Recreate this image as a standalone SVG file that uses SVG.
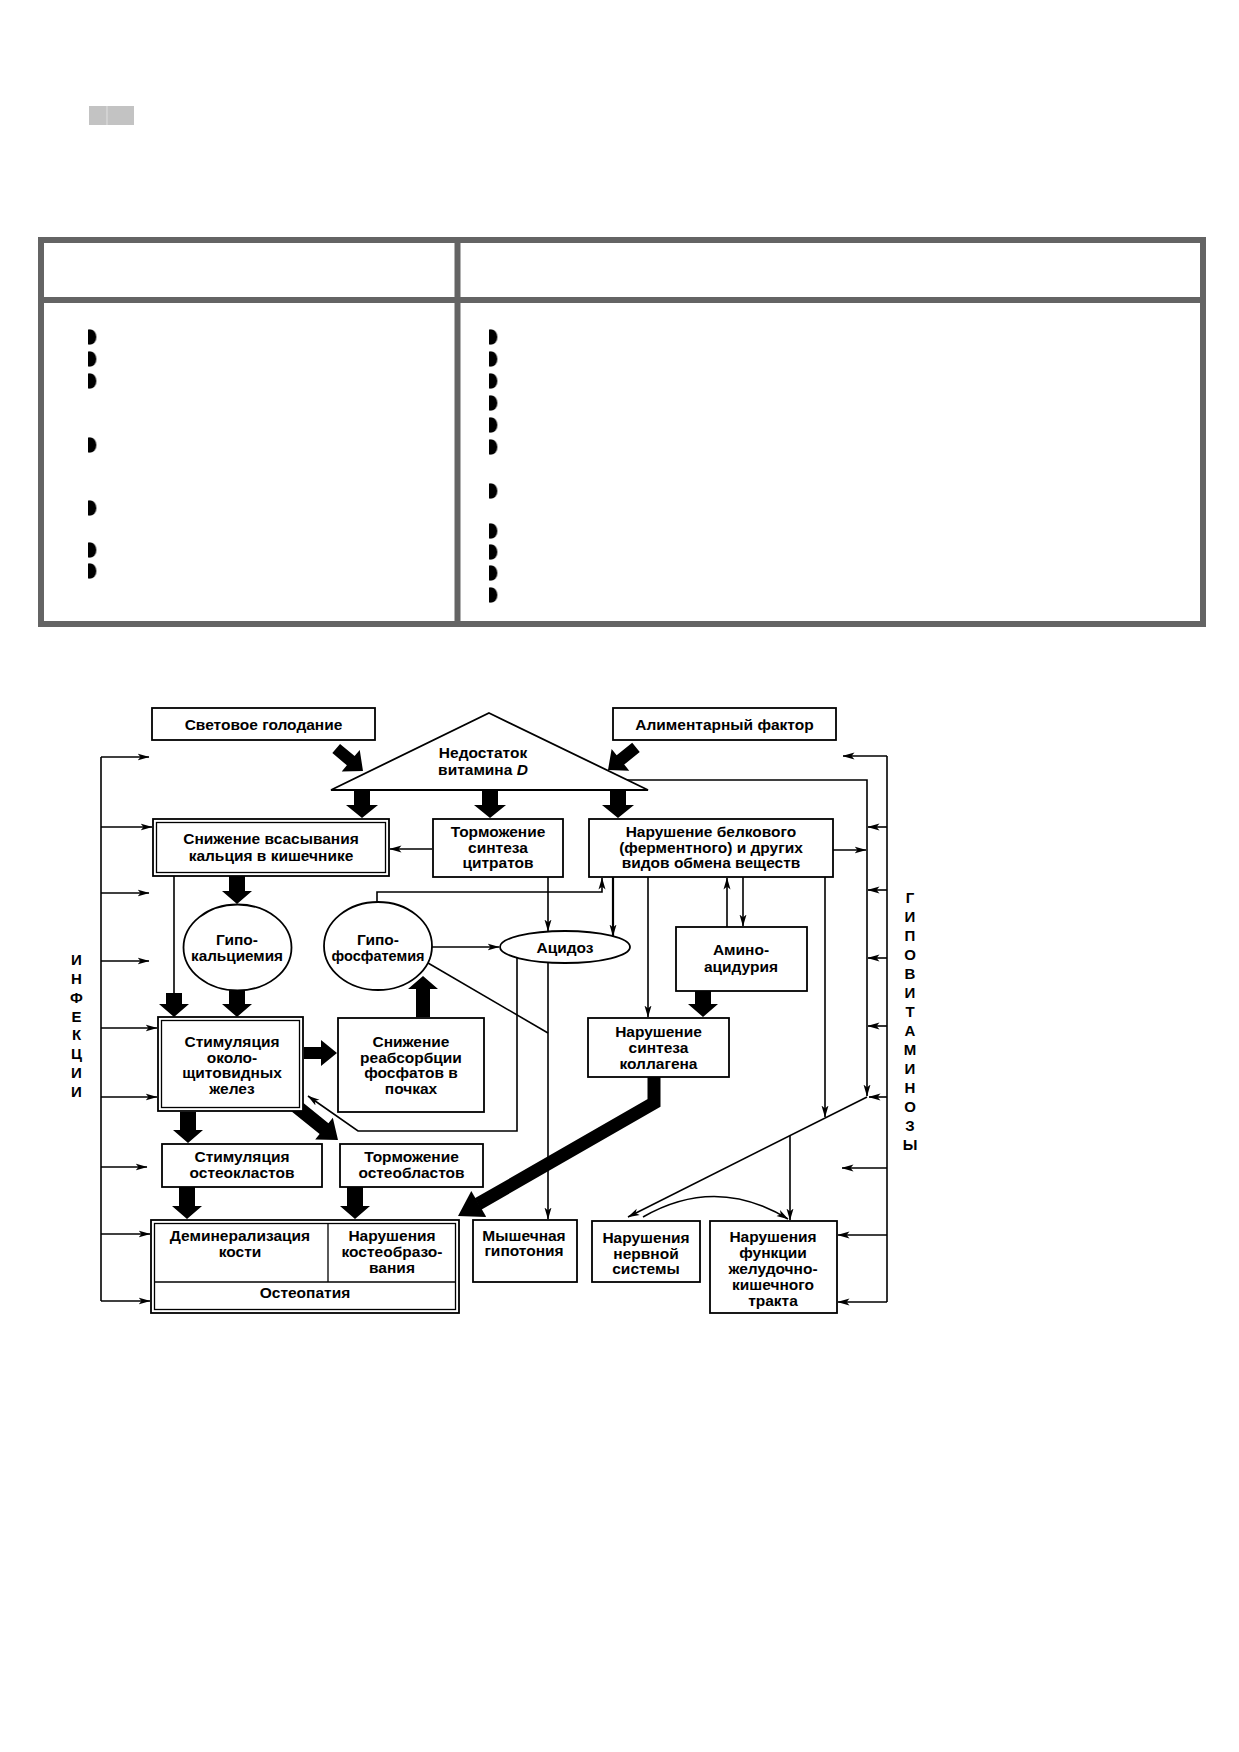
<svg xmlns="http://www.w3.org/2000/svg" width="1239" height="1752" viewBox="0 0 1239 1752">
<style>
.box{fill:#fff;stroke:#000;stroke-width:1.8}
.in{fill:none;stroke:#000;stroke-width:1.3}
.ln{fill:none;stroke:#000;stroke-width:1.6}
.blk{fill:#000;stroke:none}
.t{font-family:"Liberation Sans",Arial,sans-serif;font-size:15.5px;font-weight:bold;text-anchor:middle;fill:#000}
.v{font-family:"Liberation Sans",Arial,sans-serif;font-size:15px;font-weight:bold;text-anchor:middle;fill:#000}
.tbl{fill:none;stroke:#646464;stroke-width:6}
</style>
<defs>
<marker id="ah" viewBox="0 0 12 8" refX="11.5" refY="4" markerWidth="12" markerHeight="8" markerUnits="userSpaceOnUse" orient="auto">
<path d="M0,0.5 L12,4 L0,7.5 L3,4 Z" fill="#000"/>
</marker>
<g id="bul"><path d="M1,-7.5 L3,-7.5 A6,7.5 0 0 1 3,7.5 L1,7.5 Z" fill="#999"/><path d="M0,-7.5 L2,-7.5 A6,7.5 0 0 1 2,7.5 L0,7.5 Z" fill="#000"/></g>
</defs>
<rect width="1239" height="1752" fill="#fff"/>

<g id="header-mark">
<rect x="89" y="106" width="45" height="19" fill="#c3c3c3"/>
<line x1="107" y1="106" x2="107" y2="125" stroke="#e0e0e0" stroke-width="1"/>
</g>

<g id="table">
<rect class="tbl" x="41" y="240" width="1162" height="384"/>
<line class="tbl" x1="41" y1="300" x2="1203" y2="300"/>
<line class="tbl" x1="457.5" y1="240" x2="457.5" y2="624"/>
<g id="bullets-left">
<use href="#bul" x="88" y="337"/><use href="#bul" x="88" y="359"/><use href="#bul" x="88" y="381"/>
<use href="#bul" x="88" y="445"/><use href="#bul" x="88" y="508"/><use href="#bul" x="88" y="550"/><use href="#bul" x="88" y="571"/>
</g>
<g id="bullets-right">
<use href="#bul" x="489" y="337"/><use href="#bul" x="489" y="359"/><use href="#bul" x="489" y="381"/>
<use href="#bul" x="489" y="403"/><use href="#bul" x="489" y="425"/><use href="#bul" x="489" y="447"/>
<use href="#bul" x="489" y="491"/><use href="#bul" x="489" y="531"/><use href="#bul" x="489" y="552"/>
<use href="#bul" x="489" y="573"/><use href="#bul" x="489" y="595"/>
</g>
</g>

<g id="connectors">
<!-- left bus (infections) -->
<path class="ln" d="M101,757 V1301"/>
<path class="ln" marker-end="url(#ah)" d="M101,757 H149"/>
<path class="ln" marker-end="url(#ah)" d="M101,827 H152"/>
<path class="ln" marker-end="url(#ah)" d="M101,893 H149"/>
<path class="ln" marker-end="url(#ah)" d="M101,961 H149"/>
<path class="ln" marker-end="url(#ah)" d="M101,1028 H157"/>
<path class="ln" marker-end="url(#ah)" d="M101,1097 H157"/>
<path class="ln" marker-end="url(#ah)" d="M101,1167 H147"/>
<path class="ln" marker-end="url(#ah)" d="M101,1234 H150"/>
<path class="ln" marker-end="url(#ah)" d="M101,1301 H150"/>
<!-- right bus (hypovitaminoses) -->
<path class="ln" d="M887,756 V1302"/>
<path class="ln" marker-end="url(#ah)" d="M887,756 H843"/>
<path class="ln" marker-end="url(#ah)" d="M887,827 H868"/>
<path class="ln" marker-end="url(#ah)" d="M887,890 H868"/>
<path class="ln" marker-end="url(#ah)" d="M887,958 H868"/>
<path class="ln" marker-end="url(#ah)" d="M887,1026 H868"/>
<path class="ln" marker-end="url(#ah)" d="M887,1097 H869"/>
<path class="ln" marker-end="url(#ah)" d="M887,1168 H842"/>
<path class="ln" marker-end="url(#ah)" d="M887,1235 H838"/>
<path class="ln" marker-end="url(#ah)" d="M887,1302 H838"/>
<!-- line from triangle to slanted line -->
<path class="ln" marker-end="url(#ah)" d="M625,780 H867 V1096"/>
<path class="ln" marker-end="url(#ah)" d="M833,850 H866"/>
<path class="ln" marker-end="url(#ah)" d="M867,1097 L628,1217"/>
<path class="ln" marker-end="url(#ah)" d="M825,877 V1117"/>
<path class="ln" marker-end="url(#ah)" d="M790,1136 V1220"/>
<path class="ln" marker-end="url(#ah)" d="M643,1217 Q716,1175 788,1219"/>
<!-- central thin arrows -->
<path class="ln" marker-end="url(#ah)" d="M432,849 H390"/>
<path class="ln" marker-end="url(#ah)" d="M548,877 V931"/>
<path class="ln" style="stroke-width:2.2" marker-end="url(#ah)" d="M613,877 V936"/>
<path class="ln" marker-end="url(#ah)" d="M648,877 V1017"/>
<path class="ln" marker-end="url(#ah)" d="M727,927 V878"/>
<path class="ln" marker-end="url(#ah)" d="M743,877 V926"/>
<path class="ln" marker-end="url(#ah)" d="M432,947 H499"/>
<path class="ln" marker-end="url(#ah)" d="M377,902 V892 H602 V878"/>
<path class="ln" d="M428,963 L548,1033"/>
<path class="ln" marker-end="url(#ah)" d="M548,963 V1219"/>
<path class="ln" marker-end="url(#ah)" d="M517,958 V1131 H358 L308,1096"/>
<path class="ln" d="M174,876 V995"/>
<!-- thick block arrows -->
<path class="blk" transform="translate(362,818) rotate(90)" d="M-28,-8 L-13,-8 L-13,-16 L0,0 L-13,16 L-13,8 L-28,8 Z"/>
<path class="blk" transform="translate(490,818) rotate(90)" d="M-28,-8 L-13,-8 L-13,-16 L0,0 L-13,16 L-13,8 L-28,8 Z"/>
<path class="blk" transform="translate(618,818) rotate(90)" d="M-28,-8 L-13,-8 L-13,-16 L0,0 L-13,16 L-13,8 L-28,8 Z"/>
<path class="blk" transform="translate(363,771) rotate(40)" d="M-35,-6 L-16,-6 L-16,-14 L0,0 L-16,14 L-16,6 L-35,6 Z"/>
<path class="blk" transform="translate(608,770) rotate(141)" d="M-36,-6 L-16,-6 L-16,-14 L0,0 L-16,14 L-16,6 L-36,6 Z"/>
<path class="blk" transform="translate(237,904) rotate(90)" d="M-28,-8 L-13,-8 L-13,-15 L0,0 L-13,15 L-13,8 L-28,8 Z"/>
<path class="blk" transform="translate(174,1017) rotate(90)" d="M-24,-8 L-13,-8 L-13,-15 L0,0 L-13,15 L-13,8 L-24,8 Z"/>
<path class="blk" transform="translate(237,1017) rotate(90)" d="M-27,-8 L-13,-8 L-13,-15 L0,0 L-13,15 L-13,8 L-27,8 Z"/>
<path class="blk" transform="translate(337,1053) rotate(0)" d="M-33,-6 L-16,-6 L-16,-13 L0,0 L-16,13 L-16,6 L-33,6 Z"/>
<path class="blk" transform="translate(423,976) rotate(-90)" d="M-41,-7 L-13,-7 L-13,-15 L0,0 L-13,15 L-13,7 L-41,7 Z"/>
<path class="blk" transform="translate(703,1017) rotate(90)" d="M-26,-8 L-13,-8 L-13,-15 L0,0 L-13,15 L-13,8 L-26,8 Z"/>
<path class="blk" transform="translate(188,1143) rotate(90)" d="M-31,-8 L-13,-8 L-13,-15 L0,0 L-13,15 L-13,8 L-31,8 Z"/>
<path class="blk" transform="translate(338,1140) rotate(39)" d="M-58,-7 L-18,-7 L-18,-14 L0,0 L-18,14 L-18,7 L-58,7 Z"/>
<path class="blk" transform="translate(187,1219) rotate(90)" d="M-32,-8 L-13,-8 L-13,-15 L0,0 L-13,15 L-13,8 L-32,8 Z"/>
<path class="blk" transform="translate(355,1219) rotate(90)" d="M-32,-8 L-13,-8 L-13,-15 L0,0 L-13,15 L-13,8 L-32,8 Z"/>
<path d="M654,1077 V1103 L478,1204" fill="none" stroke="#000" stroke-width="13" stroke-linejoin="miter"/>
<path class="blk" transform="translate(458,1216) rotate(150)" d="M0,0 L-24,-15 L-24,15 Z"/>
</g>

<g id="n-svet"><rect class="box" x="152" y="708" width="223" height="32"/><text class="t" x="263.5" y="729.5">Световое голодание</text></g>
<g id="n-alim"><rect class="box" x="613" y="708" width="223" height="32"/><text class="t" x="724.5" y="729.5">Алиментарный фактор</text></g>
<g id="n-vitd"><path class="box" d="M489,713 L648,790 L331,790 Z"/><text class="t" x="483" y="758">Недостаток</text><text class="t" x="483" y="775">витамина <tspan font-style="italic">D</tspan></text></g>
<g id="n-vsas"><rect class="box" x="153" y="819" width="236" height="57"/><rect class="in" x="156.5" y="822.5" width="229" height="50"/><text class="t" x="271" y="844">Снижение всасывания</text><text class="t" x="271" y="861">кальция в кишечнике</text></g>
<g id="n-citr"><rect class="box" x="433" y="819" width="130" height="58"/><text class="t" x="498" y="837">Торможение</text><text class="t" x="498" y="852.5">синтеза</text><text class="t" x="498" y="868">цитратов</text></g>
<g id="n-belok"><rect class="box" x="589" y="819" width="244" height="58"/><text class="t" x="711" y="837">Нарушение белкового</text><text class="t" x="711" y="852.5">(ферментного) и других</text><text class="t" x="711" y="868">видов обмена веществ</text></g>
<g id="n-hypoca"><ellipse class="box" cx="237.5" cy="947.5" rx="54" ry="43"/><text class="t" x="237" y="945">Гипо-</text><text class="t" x="237" y="961" textLength="92" lengthAdjust="spacingAndGlyphs">кальциемия</text></g>
<g id="n-hypop"><ellipse class="box" cx="378" cy="946" rx="54" ry="44"/><text class="t" x="378" y="945">Гипо-</text><text class="t" x="378" y="961" textLength="93" lengthAdjust="spacingAndGlyphs">фосфатемия</text></g>
<g id="n-acid"><ellipse class="box" cx="565" cy="947" rx="65" ry="16"/><text class="t" x="565" y="952.5">Ацидоз</text></g>
<g id="n-amino"><rect class="box" x="676" y="927" width="131" height="64"/><text class="t" x="741" y="955">Амино-</text><text class="t" x="741" y="971.5">ацидурия</text></g>
<g id="n-coll"><rect class="box" x="588" y="1018" width="141" height="59"/><text class="t" x="658.5" y="1037">Нарушение</text><text class="t" x="658.5" y="1053">синтеза</text><text class="t" x="658.5" y="1069">коллагена</text></g>
<g id="n-para"><rect class="box" x="158" y="1017" width="145" height="94"/><rect class="in" x="161.5" y="1020.5" width="138" height="87"/><text class="t" x="232" y="1047">Стимуляция</text><text class="t" x="232" y="1062.5">около-</text><text class="t" x="232" y="1078">щитовидных</text><text class="t" x="232" y="1093.5">желез</text></g>
<g id="n-reabs"><rect class="box" x="338" y="1018" width="146" height="94"/><text class="t" x="411" y="1047">Снижение</text><text class="t" x="411" y="1062.5">реабсорбции</text><text class="t" x="411" y="1078">фосфатов в</text><text class="t" x="411" y="1093.5">почках</text></g>
<g id="n-oclast"><rect class="box" x="162" y="1144" width="160" height="43"/><text class="t" x="242" y="1162">Стимуляция</text><text class="t" x="242" y="1178">остеокластов</text></g>
<g id="n-oblast"><rect class="box" x="340" y="1144" width="143" height="43"/><text class="t" x="411.5" y="1162">Торможение</text><text class="t" x="411.5" y="1178">остеобластов</text></g>
<g id="n-osteo"><rect class="box" x="151" y="1220" width="308" height="93"/><rect class="in" x="154.5" y="1223.5" width="301" height="86"/><line class="in" x1="154.5" y1="1282" x2="455.5" y2="1282"/><line class="in" x1="328" y1="1223.5" x2="328" y2="1282"/><text class="t" x="240" y="1241">Деминерализация</text><text class="t" x="240" y="1257">кости</text><text class="t" x="392" y="1241">Нарушения</text><text class="t" x="392" y="1257">костеобразо-</text><text class="t" x="392" y="1273">вания</text><text class="t" x="305" y="1298">Остеопатия</text></g>
<g id="n-muscle"><rect class="box" x="473" y="1220" width="104" height="62"/><text class="t" x="524" y="1241">Мышечная</text><text class="t" x="524" y="1256">гипотония</text></g>
<g id="n-nerv"><rect class="box" x="592" y="1221" width="108" height="61"/><text class="t" x="646" y="1243">Нарушения</text><text class="t" x="646" y="1258.5">нервной</text><text class="t" x="646" y="1274">системы</text></g>
<g id="n-gi"><rect class="box" x="710" y="1221" width="127" height="92"/><text class="t" x="773" y="1242">Нарушения</text><text class="t" x="773" y="1258">функции</text><text class="t" x="773" y="1274">желудочно-</text><text class="t" x="773" y="1290">кишечного</text><text class="t" x="773" y="1306">тракта</text></g>

<g id="label-infections">
<text class="v" x="76.5" y="965">И</text><text class="v" x="76.5" y="984">Н</text><text class="v" x="76.5" y="1003">Ф</text><text class="v" x="76.5" y="1022">Е</text><text class="v" x="76.5" y="1040">К</text><text class="v" x="76.5" y="1059">Ц</text><text class="v" x="76.5" y="1078">И</text><text class="v" x="76.5" y="1097">И</text>
</g>
<g id="label-hypovit">
<text class="v" x="910" y="903">Г</text><text class="v" x="910" y="922">И</text><text class="v" x="910" y="941">П</text><text class="v" x="910" y="960">О</text><text class="v" x="910" y="979">В</text><text class="v" x="910" y="998">И</text><text class="v" x="910" y="1017">Т</text><text class="v" x="910" y="1036">А</text><text class="v" x="910" y="1055">М</text><text class="v" x="910" y="1074">И</text><text class="v" x="910" y="1093">Н</text><text class="v" x="910" y="1112">О</text><text class="v" x="910" y="1131">З</text><text class="v" x="910" y="1150">Ы</text>
</g>
</svg>
